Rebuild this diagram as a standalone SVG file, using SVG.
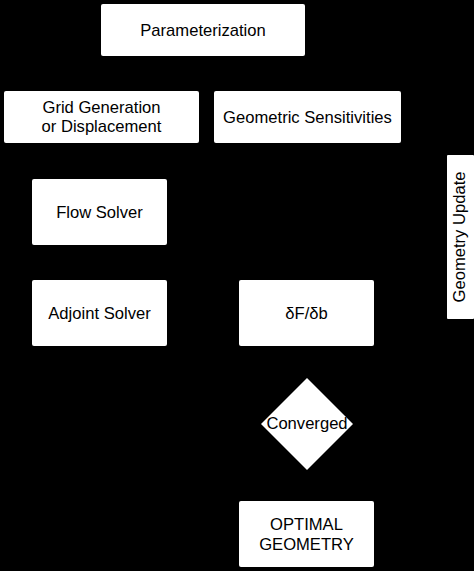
<svg xmlns="http://www.w3.org/2000/svg" width="474" height="571" viewBox="0 0 474 571">
<defs>
<style>
.box{fill:#fff;stroke:none}
.t{font-family:"Liberation Sans",Arial,Helvetica,sans-serif;font-size:16.6px;fill:#000;text-anchor:middle}
.c{fill:none;stroke:#000;stroke-width:1.5}
</style>
<marker id="ah" viewBox="0 0 10 10" refX="10" refY="5" markerWidth="8" markerHeight="8" orient="auto"><path d="M0,0L10,5L0,10z" fill="#000"/></marker>
</defs>
<rect x="0" y="0" width="474" height="571" fill="#000"/>
<g id="connectors">
<path class="c" d="M150,56V91" marker-end="url(#ah)"/>
<path class="c" d="M260,56V91" marker-end="url(#ah)"/>
<path class="c" d="M100,143V179" marker-end="url(#ah)"/>
<path class="c" d="M100,245V280" marker-end="url(#ah)"/>
<path class="c" d="M167,313H239" marker-end="url(#ah)"/>
<path class="c" d="M307,143V280" marker-end="url(#ah)"/>
<path class="c" d="M307,346V378" marker-end="url(#ah)"/>
<path class="c" d="M307,470V501" marker-end="url(#ah)"/>
<path class="c" d="M353,424H460V319" marker-end="url(#ah)"/>
<path class="c" d="M460,155V30H305" marker-end="url(#ah)"/>
</g>
<g id="parameterization"><rect class="box" x="101" y="4" width="204" height="52" rx="2"/><text class="t" x="203" y="36">Parameterization</text></g>
<g id="grid"><rect class="box" x="4" y="91" width="195" height="52" rx="2"/><text class="t" x="101.5" y="113">Grid Generation</text><text class="t" x="101.5" y="132">or Displacement</text></g>
<g id="geomsens"><rect class="box" x="214" y="91" width="187" height="52" rx="2"/><text class="t" x="307.5" y="123">Geometric Sensitivities</text></g>
<g id="geomupdate"><rect class="box" x="447" y="155" width="27" height="164" rx="1"/><text class="t" transform="translate(465,237) rotate(-90)" x="0" y="0">Geometry Update</text></g>
<g id="flow"><rect class="box" x="32" y="179" width="135" height="66" rx="2"/><text class="t" x="99.5" y="218">Flow Solver</text></g>
<g id="adjoint"><rect class="box" x="32" y="280" width="135" height="66" rx="2"/><text class="t" x="99.5" y="319">Adjoint Solver</text></g>
<g id="dfdb"><rect class="box" x="239" y="280" width="135" height="66" rx="2"/><text class="t" x="306.5" y="319">δF/δb</text></g>
<g id="converged"><path class="box" d="M307,378L353,424L307,470L261,424Z"/><text class="t" x="307" y="429">Converged</text></g>
<g id="optimal"><rect class="box" x="239" y="501" width="135" height="66" rx="2"/><text class="t" x="306.5" y="530">OPTIMAL</text><text class="t" x="306.5" y="550">GEOMETRY</text></g>
</svg>
